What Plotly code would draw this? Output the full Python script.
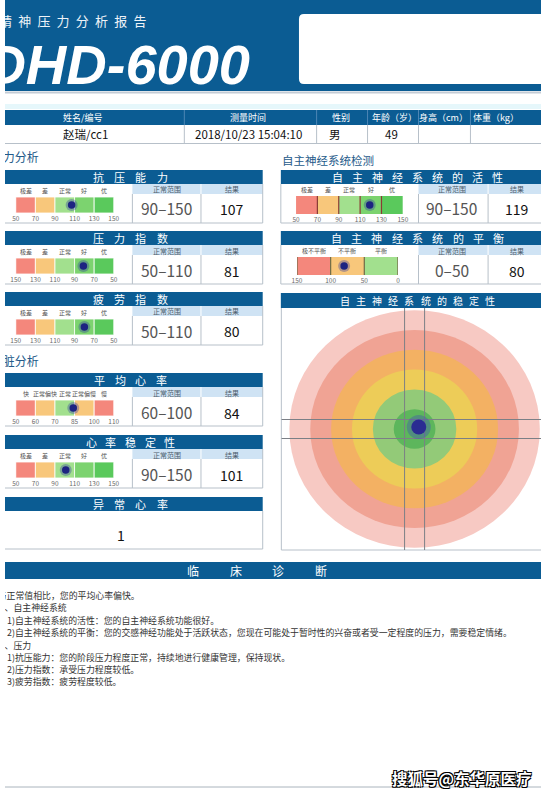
import numpy as np
import plotly.graph_objects as go

# ====================== DATA ======================
report_title = "精神压力分析报告"
model_name = "DHD-6000"
info_headers = ["姓名/编号", "测量时间", "性别", "年龄（岁）", "身高（cm）", "体重（kg）"]
info_values = ["赵瑞/cc1", "2018/10/23 15:04:10", "男", "49", "", ""]

section_titles = ["压力分析", "心脏分析", "自主神经系统检测"]

gauge_titles = ["抗压能力", "压力指数", "疲劳指数", "平均心率", "心率稳定性",
                "自主神经系统的活性", "自主神经系统的平衡"]
gauge_levels = [
    ["极差", "差", "正常", "好", "优"],
    ["极差", "差", "正常", "好", "优"],
    ["极差", "差", "正常", "好", "优"],
    ["快", "正常偏快", "正常", "正常偏慢", "慢"],
    ["极差", "差", "正常", "好", "优"],
    ["极差", "差", "正常", "好", "优"],
    ["极不平衡", "不平衡", "平衡"],
]
gauge_ticks = [
    [50, 70, 90, 110, 130, 150],
    [150, 130, 110, 90, 70, 50],
    [150, 130, 110, 90, 70, 50],
    [50, 60, 70, 85, 100, 110],
    [50, 70, 90, 110, 130, 150],
    [50, 70, 90, 110, 130, 150],
    [150, 100, 50, 0],
]
gauge_normal = ["90–150", "50–110", "50–110", "60–100", "90–150", "90–150", "0–50"]
gauge_result = [107, 81, 80, 84, 101, 119, 80]
normal_label = "正常范围"
result_label = "结果"

abnormal_title = "异常心率"
abnormal_count = 1

stability_title = "自主神经系统的稳定性"
stability_rings = [6, 5, 4, 3, 2, 1]
stability_point = [0.2, 0.1]

diagnosis_title = "临床诊断"
diagnosis_lines = [
    "与正常值相比，您的平均心率偏快。",
    "二、自主神经系统",
    "1)自主神经系统的活性：您的自主神经系统功能很好。",
    "2)自主神经系统的平衡：您的交感神经功能处于活跃状态，您现在可能处于暂时性的兴奋或者受一定程度的压力，需要稳定情绪。",
    "三、压力",
    "1)抗压能力：您的阶段压力程度正常，持续地进行健康管理，保持现状。",
    "2)压力指数：承受压力程度较低。",
    "3)疲劳指数：疲劳程度较低。",
]
watermark = "搜狐号@东华原医疗"

# ====================== STYLE / LAYOUT ======================
W, H = 547, 797
FONT = "Noto Sans CJK SC"
BLUE = "#0b5c93"
SUBBLUE = "#cfe3f4"
BORDER = "#b7c0c9"
RED, ORANGE, LGREEN, GREEN, GREEN2 = "#f4877c", "#f8c77b", "#a2e08e", "#7cd36f", "#5ac95c"
gauge_colors = [
    [RED, ORANGE, LGREEN, GREEN, GREEN2],
    [RED, ORANGE, LGREEN, GREEN, GREEN2],
    [RED, ORANGE, LGREEN, GREEN, GREEN2],
    [RED, ORANGE, LGREEN, ORANGE, RED],
    [RED, ORANGE, LGREEN, GREEN, GREEN2],
    [RED, ORANGE, LGREEN, GREEN, GREEN2],
    [RED, ORANGE, LGREEN],
]
ring_colors = ["#f7c9c3", "#f0a394", "#f3b163", "#edcc58", "#93ca78", "#5db65c"]

# panel geometry (pixels); page edge at x=0, left blocks bleed past it
EDGE = -10
panel_tops = [170, 231, 292, 373, 435, 170, 231]
panel_side = ["L", "L", "L", "L", "L", "R", "R"]
title_pitch = [21.5, 21.5, 21.5, 21, 20, 20.5, 20.7]
LEFT = dict(x0=EDGE, x1=263, s1=130, s2=200, tc=128, nc=165, rc=231.5, gx=(11, 111))
RIGHT = dict(x0=281.5, x1=560, s1=422, s2=493, tc=421, nc=456, rc=523, gx=(297, 406))
right_gx = {5: (297, 406), 6: (298, 401)}
TXT_GAP = 3  # scatter text offset for textposition "middle right"

shapes, annos = [], []
fig = go.Figure()


def rect(x0, y0, x1, y1, fill=None, line=None, lw=1, layer="below"):
    shapes.append(dict(type="rect", x0=x0, y0=y0, x1=x1, y1=y1, xref="x", yref="y",
                       fillcolor=fill or "rgba(0,0,0,0)",
                       line=dict(color=line or "rgba(0,0,0,0)", width=lw if line else 0),
                       layer=layer))


def seg(x0, y0, x1, y1, color, w=1, layer="below", xref="x", yref="y"):
    shapes.append(dict(type="line", x0=x0, y0=y0, x1=x1, y1=y1, xref=xref, yref=yref,
                       line=dict(color=color, width=w), layer=layer))


def text(x, y, s, size, color, xanchor="center", yanchor="middle", family=FONT, **fkw):
    annos.append(dict(x=x / W, y=1 - y / H, xref="paper", yref="paper", text=s,
                      showarrow=False, xanchor=xanchor, yanchor=yanchor,
                      font=dict(size=size, color=color, family=family, **fkw)))


def spaced(s, cx, y, pitch, size, color, **fkw):
    n = len(s)
    for i, ch in enumerate(s):
        text(cx + (i - (n - 1) / 2) * pitch, y, ch, size, color, **fkw)


def edge_text(xs, ys, strings, size, color, pos="middle right", family=FONT, **fkw):
    """Texts that run off the left page edge: scatter text, clipped by the page axis."""
    shift = TXT_GAP if pos == "middle right" else 0
    fig.add_trace(go.Scatter(x=[x - shift for x in xs], y=ys, mode="text", text=strings,
                             textposition=pos, cliponaxis=True,
                             textfont=dict(size=size, color=color, family=family, **fkw),
                             xaxis="x", yaxis="y", hoverinfo="skip", showlegend=False))


# ---------- top banner ----------
rect(EDGE, -5, W + 10, 91, fill=BLUE)
seg(EDGE, 92.5, W + 10, 92.5, "#c3ccd5", 2)
rect(EDGE, 104, W + 10, 109, fill="#e6f7fb")
shapes.append(dict(type="path", xref="x", yref="y", layer="below",
                   path="M 305 14 L 560 14 L 560 84 L 305 84 Q 300 84 300 79 L 300 19 Q 300 14 305 14 Z",
                   fillcolor="white", line=dict(width=0)))
edge_text([0.5 + 19.6 * i for i in range(len(report_title))], [22.5] * len(report_title),
          list(report_title), 13, "#eef3f8", pos="middle center")
edge_text([-17], [70], [model_name], 56, "white", family="Liberation Sans",
          weight="bold", style="italic")

# ---------- info table ----------
rect(EDGE, 110, W + 10, 125, fill=BLUE)
col_edges = [183, 318, 370, 422, 475]
col_centers = [80, 248, 343, 397, 448]
val_centers = [82, 248, 337, 394, 448, 514]
for xe in col_edges:
    seg(xe, 110, xe, 125, "#4d86b5", 1)
    seg(xe, 125, xe, 143.5, BORDER, 1)
seg(EDGE, 143.5, W + 10, 143.5, BORDER, 1)
for hdr, cx in zip(info_headers[:-1], col_centers):
    text(cx, 117.5, hdr, 9, "white")
text(476, 117.5, info_headers[-1], 9, "white", xanchor="left")
for v, cx in zip(info_values, val_centers):
    if v:
        text(cx, 134, v, 11.5, "#111")

# ---------- section labels ----------
edge_text([-11.5, -11.5], [159, 363], section_titles[:2], 12, "#245a89")
text(281, 160, section_titles[2], 11.5, "#245a89", xanchor="left")

# ---------- gauge panels ----------
for k in range(7):
    P = LEFT if panel_side[k] == "L" else RIGHT
    top = panel_tops[k]
    x0, x1, s1, s2 = P["x0"], P["x1"], P["s1"], P["s2"]
    rect(x0, top, x1, top + 14, fill=BLUE)
    spaced(gauge_titles[k], P["tc"], top + 7, title_pitch[k], 11, "white")
    rect(s1, top + 14, x1, top + 24, fill=SUBBLUE)
    seg(s2, top + 14, s2, top + 24, "white", 1)
    seg(s1, top + 24, s1, top + 53, BORDER)
    seg(s2, top + 24, s2, top + 53, BORDER)
    seg(x0, top + 53, x1, top + 53, BORDER)
    seg(x1, top + 14, x1, top + 53, BORDER)
    if panel_side[k] == "R":
        seg(x0, top + 14, x0, top + 53, BORDER)
    text(P["nc"], top + 19.5, normal_label, 7, "#4d5d6d")
    text(P["rc"], top + 19.5, result_label, 7, "#4d5d6d")
    text(P["nc"], top + 38.5, gauge_normal[k], 15.5, "#555")
    text(P["rc"], top + 39.5, str(gauge_result[k]), 14, "#111")

# abnormal heart rate panel
ab_top = 497
rect(EDGE, ab_top, 263, ab_top + 14, fill=BLUE)
spaced(abnormal_title, 128, ab_top + 7, 21.5, 11, "white")
seg(EDGE, ab_top + 52, 263, ab_top + 52, BORDER)
seg(263, ab_top + 14, 263, ab_top + 52, BORDER)
text(118, ab_top + 38, str(abnormal_count), 14, "#111")

# stability panel frame
st_top = 293
rect(281.5, st_top, 560, st_top + 15, fill=BLUE)
spaced(stability_title, 421, st_top + 7.5, 16.5, 10, "white")
seg(282, st_top + 15, 282, 550, BORDER)
seg(282, 550, W + 10, 550, BORDER)

# ---------- clinical diagnosis ----------
rect(EDGE, 562, W + 10, 579, fill=BLUE)
spaced(diagnosis_title, 257, 570.5, 43.5, 12, "white")
diag_x = [-4.5, -6.5, 5, 5, -6.5, 5, 5, 5]
diag_y = [597, 609, 622, 634, 647, 659, 671, 683]
edge_text(diag_x, diag_y, diagnosis_lines, 8.9, "#333")

# watermark
seg(EDGE, 787, W + 10, 787, "#aab4bd", 1)
text(466, 778, watermark, 15.5, "white", weight="bold",
     shadow="1px 1px 0 #000, -1px -1px 0 #000, 1px -1px 0 #000, -1px 1px 0 #000")

# ---------- gauges as bar charts on their own axes ----------
layout_axes = {}
for k in range(7):
    n = k + 2
    top = panel_tops[k]
    if panel_side[k] == "L":
        gx0, gx1 = LEFT["gx"]
        gy0, gy1 = top + 27, top + 43
    else:
        gx0, gx1 = right_gx[k]
        gy0, gy1 = top + 26, top + 44
    ticks = np.array(gauge_ticks[k], dtype=float)
    nseg = len(ticks) - 1
    idx = np.arange(nseg + 1, dtype=float)
    if ticks[0] > ticks[-1]:
        pos = float(np.interp(gauge_result[k], ticks[::-1], idx[::-1]))
    else:
        pos = float(np.interp(gauge_result[k], ticks, idx))
    xa, ya = f"x{n}", f"y{n}"
    sep = "white" if panel_side[k] == "L" else "rgba(0,0,0,0)"
    fig.add_trace(go.Bar(x=[1] * nseg, base=list(range(nseg)), y=[0] * nseg,
                         orientation="h", width=1,
                         marker=dict(color=gauge_colors[k], line=dict(color=sep, width=0.8)),
                         xaxis=xa, yaxis=ya, hoverinfo="skip", showlegend=False))
    fig.add_trace(go.Scatter(x=[pos], y=[0], mode="markers",
                             marker=dict(size=12, color="rgba(45,55,160,0.35)"),
                             xaxis=xa, yaxis=ya, hoverinfo="skip", showlegend=False))
    fig.add_trace(go.Scatter(x=[pos], y=[0], mode="markers",
                             marker=dict(size=7.5, color="#1d2481"),
                             xaxis=xa, yaxis=ya, hoverinfo="skip", showlegend=False))
    layout_axes[f"xaxis{n}"] = dict(
        domain=[gx0 / W, gx1 / W], range=[0, nseg], anchor=ya,
        showgrid=False, zeroline=False, showline=False, ticks="",
        tickvals=list(range(nseg + 1)), ticktext=[str(t) for t in gauge_ticks[k]],
        tickfont=dict(size=6.5, color="#6a6a6a", family=FONT), fixedrange=True)
    layout_axes[f"yaxis{n}"] = dict(
        domain=[1 - gy1 / H, 1 - gy0 / H], range=[-0.5, 0.5], anchor=xa,
        visible=False, fixedrange=True)
    for i, lab in enumerate(gauge_levels[k]):
        annos.append(dict(x=i + 0.5, y=0.5, xref=xa, yref=ya, text=lab, showarrow=False,
                          xanchor="center", yanchor="bottom", yshift=0,
                          font=dict(size=6, color="#555", family=FONT)))
    if panel_side[k] == "R":
        lines_at = range(1, nseg) if k == 5 else range(0, nseg + 1)
        lc = "#8a3b33" if k == 5 else "#6f6a45"
        for b in lines_at:
            seg(b, -0.6, b, 0.6, lc, 1.2, layer="above", xref=xa, yref=ya)

# ---------- stability target ----------
sx0, sx1, sy0, sy1 = 282, 547, 308, 550
cx, cy, kx, ky = 418, 429, 21.3, 19.8
xr9 = [-(cx - sx0) / kx, (sx1 - cx) / kx]
yr9 = [-(sy1 - cy) / ky, (cy - sy0) / ky]
layout_axes["xaxis9"] = dict(domain=[sx0 / W, sx1 / W], range=xr9,
                             anchor="y9", visible=False, fixedrange=True)
layout_axes["yaxis9"] = dict(domain=[1 - sy1 / H, 1 - sy0 / H], range=yr9,
                             anchor="x9", visible=False, fixedrange=True)
for r, c in zip(stability_rings, ring_colors):
    shapes.append(dict(type="circle", xref="x9", yref="y9", x0=-r, x1=r, y0=-r, y1=r,
                       fillcolor=c, line=dict(width=0), layer="below"))
for v in (-0.48, 0.48):
    seg(v, yr9[0], v, yr9[1], "#7b7f86", 1, xref="x9", yref="y9")
    seg(xr9[0], v, xr9[1], v, "#7b7f86", 1, xref="x9", yref="y9")
fig.add_trace(go.Scatter(x=[stability_point[0]], y=[stability_point[1]], mode="markers",
                         marker=dict(size=24, color="rgba(60,70,190,0.35)"),
                         xaxis="x9", yaxis="y9", hoverinfo="skip", showlegend=False))
fig.add_trace(go.Scatter(x=[stability_point[0]], y=[stability_point[1]], mode="markers",
                         marker=dict(size=15, color="#2a2c92"),
                         xaxis="x9", yaxis="y9", hoverinfo="skip", showlegend=False))

fig.update_layout(
    width=W, height=H, margin=dict(l=0, r=0, t=0, b=0, pad=0),
    paper_bgcolor="white", plot_bgcolor="rgba(0,0,0,0)", showlegend=False,
    xaxis=dict(domain=[0, 1], range=[0, W], visible=False, fixedrange=True),
    yaxis=dict(domain=[0, 1], range=[H, 0], visible=False, fixedrange=True),
    shapes=shapes, annotations=annos, **layout_axes,
)
fig.write_html("out.html", config={"displayModeBar": False},
               post_script="document.body.style.margin='0';document.body.style.overflow='hidden';")
